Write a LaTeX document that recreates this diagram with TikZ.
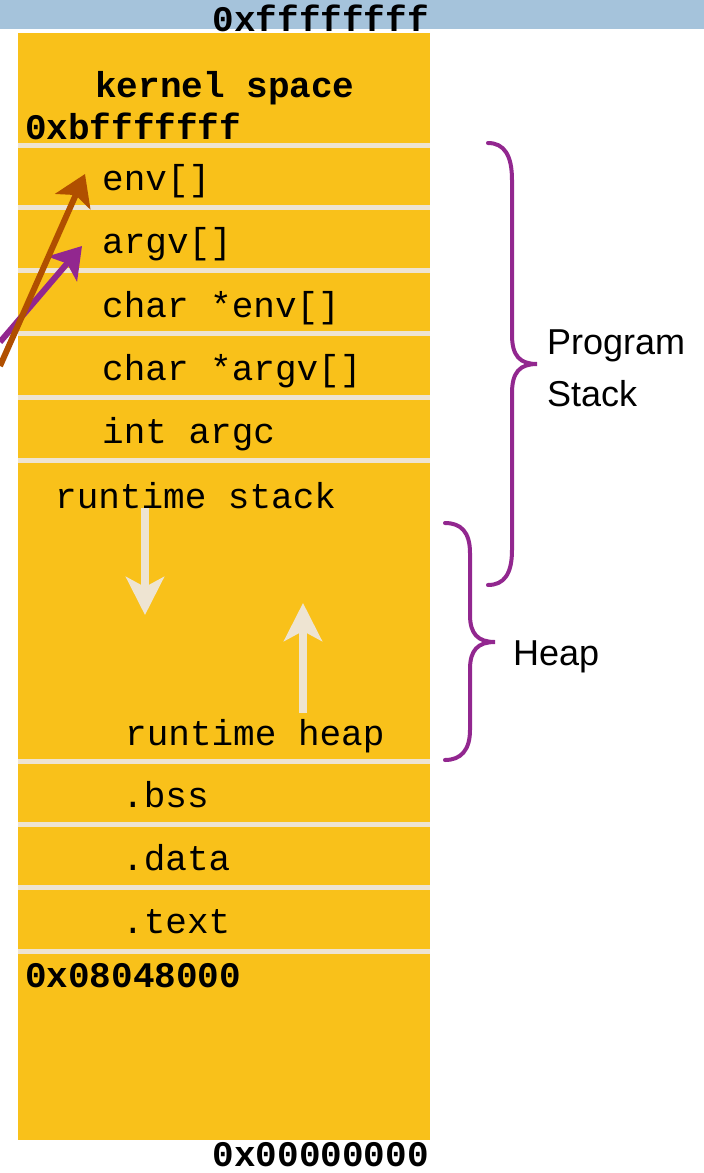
\documentclass[tikz,border=0pt]{standalone}
\usepackage{fontspec}
\setmonofont{Liberation Mono}
\setsansfont{Liberation Sans}
\usetikzlibrary{arrows.meta}
\definecolor{segyellow}{RGB}{249,193,26}
\definecolor{segline}{RGB}{238,228,210}
\definecolor{topblue}{RGB}{165,195,219}
\definecolor{bracepurple}{RGB}{146,39,143}
\definecolor{ptrbrown}{RGB}{176,79,0}
\begin{document}
\begin{tikzpicture}[
  x=1pt, y=-1pt,
  seg/.style={anchor=base west, inner sep=0pt, font=\ttfamily\fontsize{36}{40}\selectfont},
  addr/.style={seg, font=\ttfamily\bfseries\fontsize{36}{40}\selectfont},
  sidelabel/.style={anchor=west, inner sep=0pt, align=left, font=\sffamily\fontsize{36}{52}\selectfont},
  growarrow/.style={-{Stealth[length=38pt,width=38pt,inset=10pt]}, line width=8pt, segline},
  ptr/.style={-{Stealth[length=30pt,width=38pt,inset=7pt]}, line width=6pt},
  bracepath/.style={line width=4pt, bracepurple, line cap=round}
]
\useasboundingbox (0,0) rectangle (704,1173);

% address band and segment column
\fill[topblue] (0,0) rectangle (704,29);
\fill[segyellow] (18,33) rectangle (430,1140);
\foreach \y in {145,207,270,333,397,460,761,824,887,951}
  \draw[segline, line width=5pt] (18,\y) -- (430,\y);

\node[addr, anchor=base east] (top) at (429,31) {0xffffffff};
\node[addr] (kernel) at (95,97) {kernel space};
\node[addr] (kend) at (25,139) {0xbfffffff};
\node[seg] (env) at (102,190) {env[]};
\node[seg] (argv) at (102,253) {argv[]};
\node[seg] (envp) at (102,317) {char *env[]};
\node[seg] (argvp) at (102,380) {char *argv[]};
\node[seg] (argc) at (102,443) {int argc};
\node[seg] (rstack) at (55,508) {runtime stack};
\node[seg] (rheap) at (125,745) {runtime heap};
\node[seg] (bss) at (122,807) {.bss};
\node[seg] (data) at (122,870) {.data};
\node[seg] (text) at (122,933) {.text};
\node[addr] (tstart) at (25,987) {0x08048000};
\node[addr, anchor=base east] (bottom) at (429,1166) {0x00000000};

\node[sidelabel] (stacklbl) at (547,368) {Program\\Stack};
\node[sidelabel] (heaplbl) at (513,657) {Heap};

% growth directions
\coordinate (stacktop) at (145,508);
\coordinate (stackgrow) at (145,615);
\coordinate (heapbase) at (303,713);
\coordinate (heapgrow) at (303,603);
\draw[growarrow] (stacktop) -- (stackgrow);
\draw[growarrow] (heapbase) -- (heapgrow);

% pointers into the stack
\coordinate (argvsrc) at (0,342);
\coordinate (argvtip) at (82,246);
\coordinate (envsrc) at (0,366);
\coordinate (envtip) at (85,174);
\draw[ptr, bracepurple] (argvsrc) -- (argvtip);
\draw[ptr, ptrbrown] (envsrc) -- (envtip);

% braces
\draw[bracepath] (488,143) .. controls (504,143) and (512,155) .. (512,180)
  -- (512,335) .. controls (512,356) and (520,364) .. (537,364)
  .. controls (520,364) and (512,372) .. (512,393)
  -- (512,550) .. controls (512,574) and (504,585) .. (488,585);
\draw[bracepath] (445,523) .. controls (461,523) and (470,532) .. (470,553)
  -- (470,615) .. controls (470,634) and (478,642) .. (495,642)
  .. controls (478,642) and (470,650) .. (470,669)
  -- (470,730) .. controls (470,750) and (461,760) .. (445,760);
\end{tikzpicture}
\end{document}
